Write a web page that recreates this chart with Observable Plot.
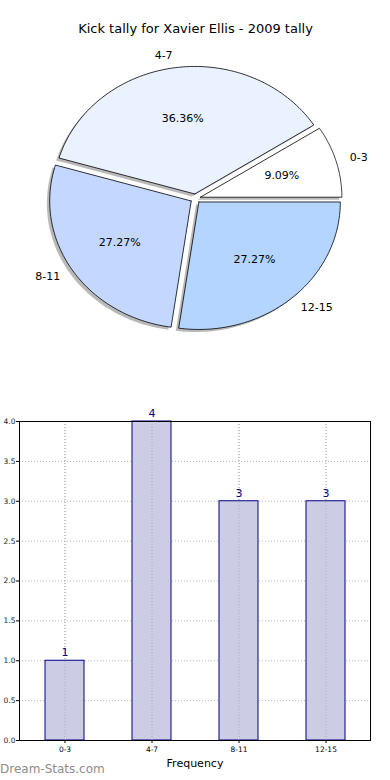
<!DOCTYPE html>
<html>
<head>
<meta charset="utf-8">
<script src="https://cdn.jsdelivr.net/npm/d3@7"></script>
<script src="https://cdn.jsdelivr.net/npm/@observablehq/plot@0.6"></script>
<style>
  html, body { margin: 0; padding: 0; background: #fff; }
  body { width: 390px; height: 780px; position: relative; overflow: hidden; font-family: "DejaVu Sans", sans-serif; }
  #pie { position: absolute; left: 0; top: 0; }
  #bar { position: absolute; left: 0; top: 400px; }
  #wm { position: absolute; left: 0; top: 762px; font: 12px "DejaVu Sans", sans-serif; color: #8c8c8c; }
</style>
</head>
<body>
<div id="pie"></div>
<div id="bar"></div>
<div id="wm">Dream-Stats.com</div>
<script>
const title = "Kick tally for Xavier Ellis - 2009 tally";
const categories = ["0-3", "4-7", "8-11", "12-15"];
const counts = [1, 4, 3, 3];
const sliceColors = ["#ffffff", "#eaf1ff", "#c4d8ff", "#b4d5ff"];
const yTicks = [0, 0.5, 1, 1.5, 2, 2.5, 3, 3.5, 4];
const xLabel = "Frequency";

// ---- pie geometry (data units, radius 1) ----
const explode = 0.036;
const total = d3.sum(counts);
const slices = [];
let acc = 0;
categories.forEach((c, i) => {
  const a0 = acc / total * 2 * Math.PI;
  acc += counts[i];
  const a1 = acc / total * 2 * Math.PI;
  const mid = (a0 + a1) / 2;
  slices.push({label: c, value: counts[i], a0, a1, mid,
    cx: explode * Math.cos(mid), cy: explode * Math.sin(mid),
    pct: (counts[i] / total * 100).toFixed(2) + "%"});
});
function polygon(s, dx, dy, key) {
  const pts = [{x: s.cx + dx, y: s.cy + dy, k: key}];
  const n = 80;
  for (let j = 0; j <= n; j++) {
    const a = s.a0 + (s.a1 - s.a0) * j / n;
    pts.push({x: s.cx + dx + Math.cos(a), y: s.cy + dy + Math.sin(a), k: key});
  }
  pts.push({x: s.cx + dx, y: s.cy + dy, k: key});
  return pts;
}
const slicePts = slices.flatMap(s => polygon(s, 0, 0, s.label));
const shadowPts = slices.flatMap(s => polygon(s, -0.02, -0.02, s.label));
const outerLabels = slices.map(s => {
  const x = s.cx + 1.1 * Math.cos(s.mid), y = s.cy + 1.1 * Math.sin(s.mid);
  return {x, y, text: s.label};
});
const pctLabels = slices.map(s => ({x: s.cx + 0.6 * Math.cos(s.mid), y: s.cy + 0.6 * Math.sin(s.mid), text: s.pct}));

const Rx = 141.5, Ry = 127.5, CX = 195, CY = 198, PH = 400;
const pie = Plot.plot({
  width: 390, height: PH,
  margin: 0,
  style: {fontFamily: "DejaVu Sans, sans-serif", background: "transparent"},
  x: {domain: [-CX / Rx, (390 - CX) / Rx], range: [0, 390], axis: null},
  y: {domain: [-(PH - CY) / Ry, CY / Ry], range: [PH, 0], axis: null},
  color: {domain: categories, range: sliceColors},
  marks: [
    Plot.line(shadowPts, {x: "x", y: "y", z: "k", fill: "#7f7f7f", fillOpacity: 0.55, stroke: "none", curve: "linear"}),
    Plot.line(slicePts, {x: "x", y: "y", z: "k", fill: "k", stroke: "black", strokeWidth: 0.8, strokeLinejoin: "miter", curve: "linear"}),
    Plot.text(pctLabels, {x: "x", y: "y", text: "text", fontSize: 11, fill: "black"}),
    Plot.text(outerLabels.filter(d => d.x > 0), {x: "x", y: "y", text: "text", textAnchor: "start", fontSize: 11, fill: "black"}),
    Plot.text(outerLabels.filter(d => d.x <= 0), {x: "x", y: "y", text: "text", textAnchor: "end", fontSize: 11, fill: "black"}),
    Plot.text([title], {frameAnchor: "top", dy: 23, text: d => d, fontSize: 13, fill: "black"})
  ]
});
document.getElementById("pie").appendChild(pie);

// ---- bar chart ----
const barData = categories.map((c, i) => ({cat: c, n: counts[i]}));
const bar = Plot.plot({
  width: 390, height: 380,
  marginTop: 21, marginBottom: 40, marginLeft: 19, marginRight: 20,
  style: {fontFamily: "DejaVu Sans, sans-serif", background: "transparent"},
  x: {domain: categories, type: "band", paddingInner: 0.557, paddingOuter: 0.273, label: null},
  y: {domain: [0, 4], ticks: yTicks, label: null},
  marks: [
    Plot.gridY(yTicks, {stroke: "#999", strokeOpacity: 0.7, strokeDasharray: "1,2"}),
    Plot.gridX(categories, {stroke: "#999", strokeOpacity: 0.7, strokeDasharray: "1,2"}),
    Plot.barY(barData, {x: "cat", y: "n", fill: "#ccccE4", stroke: "#000080", strokeWidth: 1}),
    Plot.gridX(categories, {stroke: "#999", strokeOpacity: 0.6, strokeDasharray: "1,2"}),
    Plot.text(barData, {x: "cat", y: "n", text: d => String(d.n), dy: -8, fontSize: 11, fill: "#000080"}),
    Plot.axisY(yTicks, {tickFormat: d => d.toFixed(1), tickSize: 3, tickPadding: 1, fontSize: 7.5, label: null, fill: "#222"}),
    Plot.axisX({tickSize: 3, tickPadding: 3, fontSize: 7.5, label: null}),
    Plot.frame({stroke: "black", strokeWidth: 1}),
    Plot.text([xLabel], {frameAnchor: "bottom", dy: 26, text: d => d, fontSize: 11, fill: "black"})
  ]
});
document.getElementById("bar").appendChild(bar);
</script>
</body>
</html>
